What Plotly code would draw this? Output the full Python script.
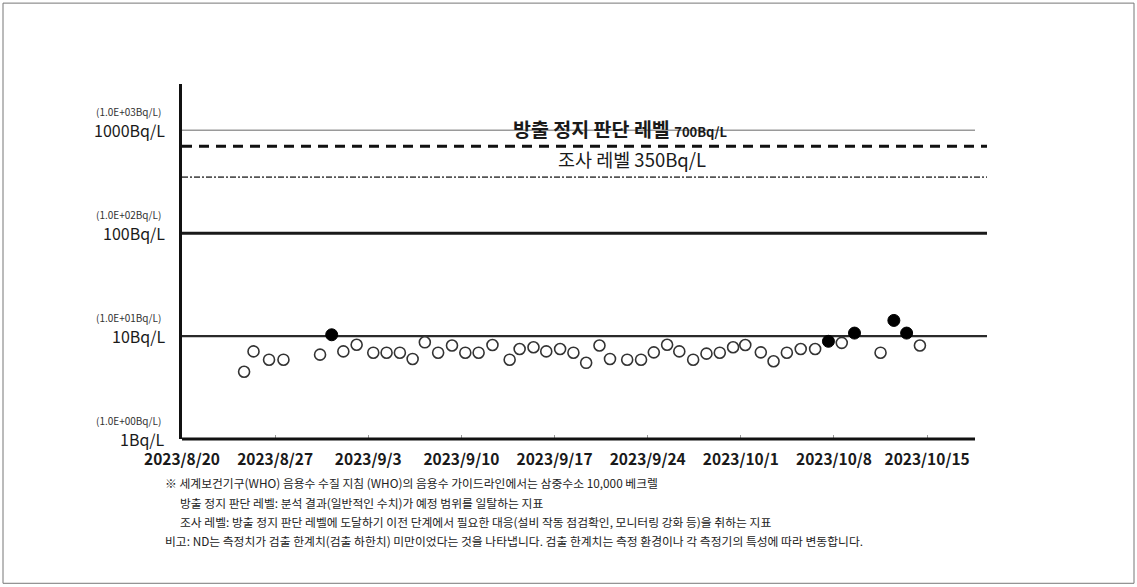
import plotly.graph_objects as go
import math

# ---------------- data ----------------
nd_dates = [
    "2023-08-24 16:00", "2023-08-25 09:00", "2023-08-26 13:00", "2023-08-27 15:00",
    "2023-08-30 09:00", "2023-09-01 03:00", "2023-09-02 03:00", "2023-09-03 09:00",
    "2023-09-04 09:00", "2023-09-05 09:00", "2023-09-06 08:00", "2023-09-07 06:00",
    "2023-09-08 06:00", "2023-09-09 07:00", "2023-09-10 07:00", "2023-09-11 07:00",
    "2023-09-12 08:00", "2023-09-13 15:00", "2023-09-14 09:00", "2023-09-15 10:00",
    "2023-09-16 09:00", "2023-09-17 10:00", "2023-09-18 10:00", "2023-09-19 09:00",
    "2023-09-20 09:00", "2023-09-21 04:00", "2023-09-22 11:00", "2023-09-23 12:00",
    "2023-09-24 11:00", "2023-09-25 11:00", "2023-09-26 09:00", "2023-09-27 10:00",
    "2023-09-28 10:00", "2023-09-29 10:00", "2023-09-30 10:00", "2023-10-01 08:00",
    "2023-10-02 12:00", "2023-10-03 11:00", "2023-10-04 11:00", "2023-10-05 12:00",
    "2023-10-06 14:00", "2023-10-08 14:00", "2023-10-11 12:00", "2023-10-14 11:00",
]
nd_values = [
    4.5, 7.1, 5.9, 5.9,
    6.6, 7.1, 8.25, 6.9,
    6.9, 6.9, 6.0, 8.7,
    6.9, 8.1, 6.9, 6.9,
    8.2, 5.9, 7.5, 7.8,
    7.1, 7.5, 6.9, 5.5,
    8.1, 6.0, 5.9, 5.9,
    6.95, 8.25, 7.1, 5.9,
    6.75, 6.9, 7.8, 8.2,
    6.95, 5.7, 6.9, 7.5,
    7.5, 8.6, 6.9, 8.1,
]
det_dates = ["2023-08-31 06:00", "2023-10-07 14:00", "2023-10-09 13:00",
             "2023-10-12 12:00", "2023-10-13 11:00"]
det_values = [10.3, 8.9, 10.7, 14.2, 10.7]

tick_dates = ["2023-08-20", "2023-08-27", "2023-09-03", "2023-09-10", "2023-09-17",
              "2023-09-24", "2023-10-01", "2023-10-08", "2023-10-15"]
tick_labels = ["2023/8/20", "2023/8/27", "2023/9/3", "2023/9/10", "2023/9/17",
               "2023/9/24", "2023/10/1", "2023/10/8", "2023/10/15"]

y_levels = [1, 10, 100, 1000]
y_labels = ["1Bq/L", "10Bq/L", "100Bq/L", "1000Bq/L"]
y_sublabels = ["(1.0E+00Bq/L)", "(1.0E+01Bq/L)", "(1.0E+02Bq/L)", "(1.0E+03Bq/L)"]

stop_level = 700
survey_level = 350

notes = [
    "※ 세계보건기구(WHO) 음용수 수질 지침 (WHO)의 음용수 가이드라인에서는 삼중수소 10,000 베크렐",
    "방출 정지 판단 레벨: 분석 결과(일반적인 수치)가 예정 범위를 일탈하는 지표",
    "조사 레벨: 방출 정지 판단 레벨에 도달하기 이전 단계에서 필요한 대응(설비 작동 점검확인, 모니터링 강화 등)을 취하는 지표",
    "비고: ND는 측정치가 검출 한계치(검출 하한치) 미만이었다는 것을 나타냅니다. 검출 한계치는 측정 환경이나 각 측정기의 특성에 따라 변동합니다.",
]

# ---------------- layout geometry ----------------
W, H = 1137, 587
L, R, T, B = 182, 150, 84, 147.5
PW, PH = W - L - R, H - T - B

def px(X):
    return (X - L) / PW

def py(Y):
    return (H - B - Y) / PH

FONT = "Noto Sans CJK KR"
INK = "#1a1a1a"

fig = go.Figure()

fig.add_trace(go.Scatter(
    x=nd_dates, y=nd_values, mode="markers", name="ND",
    marker=dict(symbol="circle", size=11, color="white",
                line=dict(color="#333333", width=1.6)),
    showlegend=False,
))
fig.add_trace(go.Scatter(
    x=det_dates, y=det_values, mode="markers", name="검출",
    marker=dict(symbol="circle", size=12, color="black",
                line=dict(color="black", width=1)),
    showlegend=False,
))

shapes = []
# reference / grid lines (shape y in data units)
shapes.append(dict(type="line", xref="paper", yref="y", x0=0, x1=px(975),
                   y0=1000, y1=1000,
                   line=dict(color="#9a9a9a", width=1.5), layer="below"))
shapes.append(dict(type="line", xref="paper", yref="y", x0=0, x1=1,
                   y0=stop_level, y1=stop_level,
                   line=dict(color="#111111", width=3, dash="10px,7px"), layer="below"))
shapes.append(dict(type="line", xref="paper", yref="y", x0=0, x1=1,
                   y0=survey_level, y1=survey_level,
                   line=dict(color="#555555", width=1.8, dash="6px,2px,2px,2px"), layer="below"))
shapes.append(dict(type="line", xref="paper", yref="y", x0=0, x1=1,
                   y0=100, y1=100, line=dict(color="#1a1a1a", width=3), layer="below"))
shapes.append(dict(type="line", xref="paper", yref="y", x0=0, x1=1,
                   y0=10, y1=10, line=dict(color="#2a2a2a", width=2.2), layer="below"))
# x axis line
shapes.append(dict(type="line", xref="paper", yref="paper", x0=0, x1=px(975),
                   y0=0, y1=0, line=dict(color="#111111", width=3)))
# page border
shapes.append(dict(type="rect", xref="paper", yref="paper",
                   x0=px(3), x1=px(1134), y0=py(584), y1=py(3),
                   line=dict(color="#777777", width=1)))

annotations = []
for v, lab, sub in zip(y_levels, y_labels, y_sublabels):
    annotations.append(dict(xref="paper", yref="y", x=0, y=math.log10(v),
                            text=lab, showarrow=False, xanchor="right", yanchor="middle",
                            xshift=-15, yshift=0,
                            font=dict(family=FONT, size=16, color=INK)))
    annotations.append(dict(xref="paper", yref="y", x=0, y=math.log10(v),
                            text=sub, showarrow=False, xanchor="right", yanchor="middle",
                            xshift=-19, yshift=18.5,
                            font=dict(family=FONT, size=10, color="#333333")))

annotations.append(dict(xref="paper", yref="paper", x=px(620), y=py(129),
                        text="방출 정지 판단 레벨 <span style='font-size:13px'>" + f"{stop_level}Bq/L" + "</span>",
                        showarrow=False, xanchor="center", yanchor="middle",
                        font=dict(family=FONT, size=19.5, color=INK, weight="bold")))
annotations.append(dict(xref="paper", yref="paper", x=px(632), y=py(159),
                        text=f"조사 레벨 {survey_level}Bq/L",
                        showarrow=False, xanchor="center", yanchor="middle",
                        font=dict(family=FONT, size=18.5, color=INK)))

note_pos = [(163, 483), (178, 503), (178, 522), (163, 541)]
for (nx, ny), t in zip(note_pos, notes):
    annotations.append(dict(xref="paper", yref="paper", x=px(nx), y=py(ny),
                            text=t, showarrow=False, xanchor="left", yanchor="middle",
                            font=dict(family=FONT, size=11.8, color="#222222")))

fig.update_layout(
    width=W, height=H,
    margin=dict(l=L, r=R, t=T, b=B, pad=0),
    paper_bgcolor="white", plot_bgcolor="white",
    showlegend=False,
    shapes=shapes, annotations=annotations,
    xaxis=dict(
        type="date", range=["2023-08-20", "2023-10-19 12:00"],
        tickvals=tick_dates, ticktext=tick_labels,
        showgrid=False, zeroline=False, showline=False,
        ticks="inside", ticklen=4, tickcolor="#999999",
        ticklabelstandoff=9,
        tickfont=dict(family=FONT, size=15.5, color=INK, weight="bold"),
    ),
    yaxis=dict(
        type="log", range=[0, 3.45],
        showgrid=False, zeroline=False,
        showline=True, linecolor="#111111", linewidth=2.5,
        tickvals=y_levels, showticklabels=False, ticks="",
    ),
)

fig.write_html("out.html")
